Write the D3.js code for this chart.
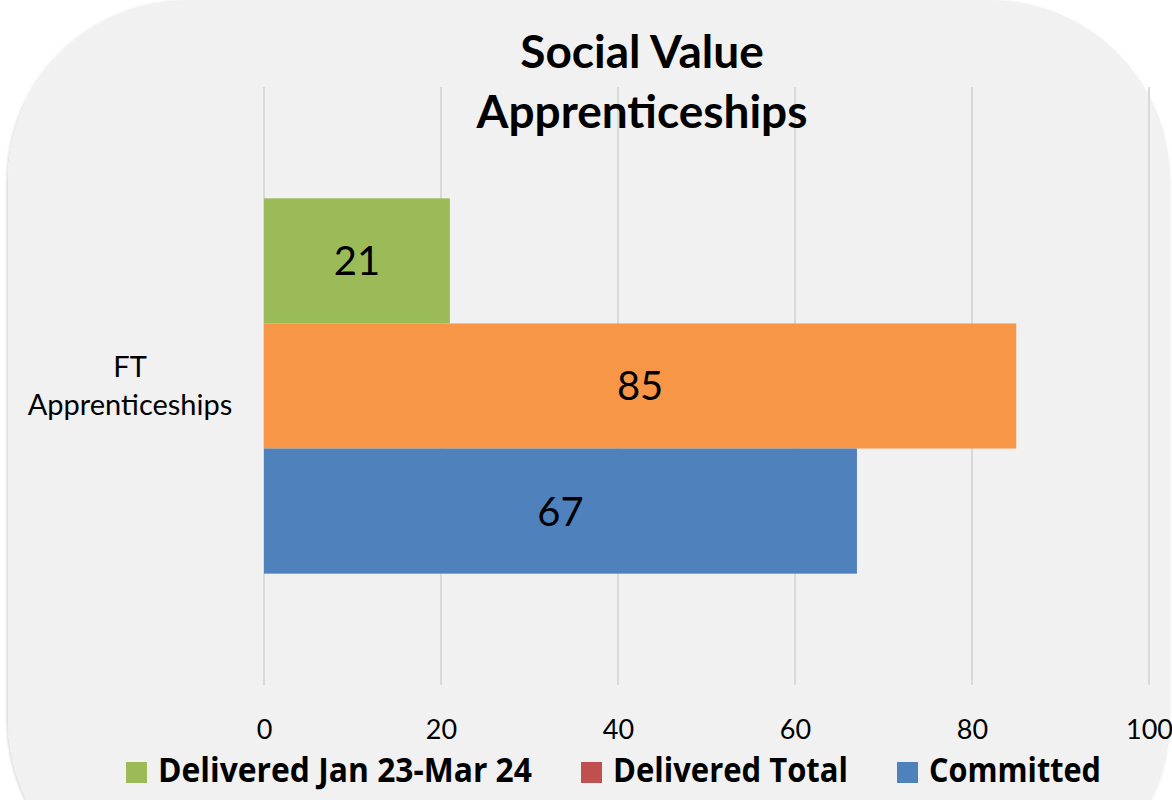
<!DOCTYPE html>
<html>
<head>
<meta charset="utf-8">
<script src="https://cdn.jsdelivr.net/npm/d3@7"></script>
<style>
  html, body { margin: 0; padding: 0; background: #ffffff; }
  svg { display: block; }
</style>
</head>
<body>
<div id="chart"></div>
<script>
// data
const categories = ["FT Apprenticeships"];
const seriesNames = ["Delivered Jan 23-Mar 24", "Delivered Total", "Committed"];
const seriesValues = [21, 85, 67];
const barColors = ["#9BBB59", "#F79646", "#4F81BD"];
const legendColors = ["#9BBB59", "#C0504D", "#4F81BD"];
const xTicks = [0, 20, 40, 60, 80, 100];
const titleLines = ["Social Value", "Apprenticeships"];

const width = 1172, height = 800;
const plot = { left: 264, right: 1149, top: 87, bottom: 685 };

const svg = d3.select("#chart").append("svg")
    .attr("width", width)
    .attr("height", height);

const defs = svg.append("defs");
const shadow = defs.append("filter").attr("id", "shadow")
    .attr("x", "-5%").attr("y", "-5%").attr("width", "110%").attr("height", "110%");
shadow.append("feDropShadow")
    .attr("dx", -1).attr("dy", 1).attr("stdDeviation", 1.5)
    .attr("flood-color", "#000").attr("flood-opacity", 0.18);

// rounded panel background
svg.append("rect")
    .attr("x", 8).attr("y", 0)
    .attr("width", 1162).attr("height", 900)
    .attr("rx", 180).attr("ry", 180)
    .attr("fill", "#F1F1F1")
    .attr("filter", "url(#shadow)");

// scales
const x = d3.scaleLinear().domain([0, 100]).range([plot.left, plot.right]);
const y0 = d3.scaleBand().domain(categories).range([plot.top, plot.bottom]);
const y1 = d3.scaleBand().domain(seriesNames)
    .range([0, y0.bandwidth()])
    .paddingInner(0).paddingOuter(0.89);

// gridlines
svg.append("g")
    .selectAll("line")
    .data(xTicks)
    .join("line")
    .attr("x1", d => x(d)).attr("x2", d => x(d))
    .attr("y1", plot.top).attr("y2", plot.bottom)
    .attr("stroke", "#D9D9D9")
    .attr("stroke-width", 2);

// axis tick labels
const xAxis = svg.append("g")
    .attr("transform", `translate(0,${plot.bottom})`)
    .call(d3.axisBottom(x).tickValues(xTicks).tickSize(0).tickPadding(35));
xAxis.select(".domain").remove();
xAxis.selectAll("text")
    .attr("font-family", "Lato, 'Open Sans', sans-serif")
    .attr("font-size", 27)
    .attr("fill", "#000");

// bars
const rows = seriesNames.map((s, i) => ({ cat: categories[0], name: s, value: seriesValues[i], color: barColors[i] }));

const barG = svg.append("g");
barG.selectAll("rect")
    .data(rows)
    .join("rect")
    .attr("x", x(0))
    .attr("y", d => y0(d.cat) + y1(d.name))
    .attr("width", d => x(d.value) - x(0))
    .attr("height", y1.bandwidth())
    .attr("fill", d => d.color);

barG.selectAll("text")
    .data(rows)
    .join("text")
    .attr("x", d => (x(0) + x(d.value)) / 2)
    .attr("y", d => y0(d.cat) + y1(d.name) + y1.bandwidth() / 2)
    .attr("dy", "0.36em")
    .attr("text-anchor", "middle")
    .attr("font-family", "Lato, 'Open Sans', sans-serif")
    .attr("font-size", 40)
    .attr("fill", "#000")
    .text(d => d.value);

// category label
const catLabel = svg.append("text")
    .attr("text-anchor", "middle")
    .attr("font-family", "Lato, 'Open Sans', sans-serif")
    .attr("font-size", 29)
    .attr("fill", "#000");
catLabel.selectAll("tspan")
    .data(["FT", "Apprenticeships"])
    .join("tspan")
    .attr("x", 130)
    .attr("y", (d, i) => 377 + i * 38)
    .text(d => d);

// title
svg.append("g").selectAll("text")
    .data(titleLines)
    .join("text")
    .attr("x", 642)
    .attr("y", (d, i) => 68 + i * 60)
    .attr("text-anchor", "middle")
    .attr("font-family", "Lato, 'Open Sans', sans-serif")
    .attr("font-weight", "bold")
    .attr("font-size", 46)
    .attr("fill", "#000")
    .text(d => d);

// legend
const legendX = [126, 581, 897];
const legendW = [374, 235, 172];
const legend = svg.append("g");
const li = legend.selectAll("g")
    .data(seriesNames)
    .join("g")
    .attr("transform", (d, i) => `translate(${legendX[i]},762)`);
li.append("rect")
    .attr("width", 21).attr("height", 21)
    .attr("fill", (d, i) => legendColors[i]);
li.append("text")
    .attr("x", 32).attr("y", 20)
    .attr("font-family", "'Liberation Sans Narrow', 'Open Sans', sans-serif")
    .attr("font-weight", "bold")
    .attr("font-size", 34)
    .attr("textLength", (d, i) => legendW[i])
    .attr("lengthAdjust", "spacingAndGlyphs")
    .attr("fill", "#000")
    .text(d => d);
</script>
</body>
</html>
